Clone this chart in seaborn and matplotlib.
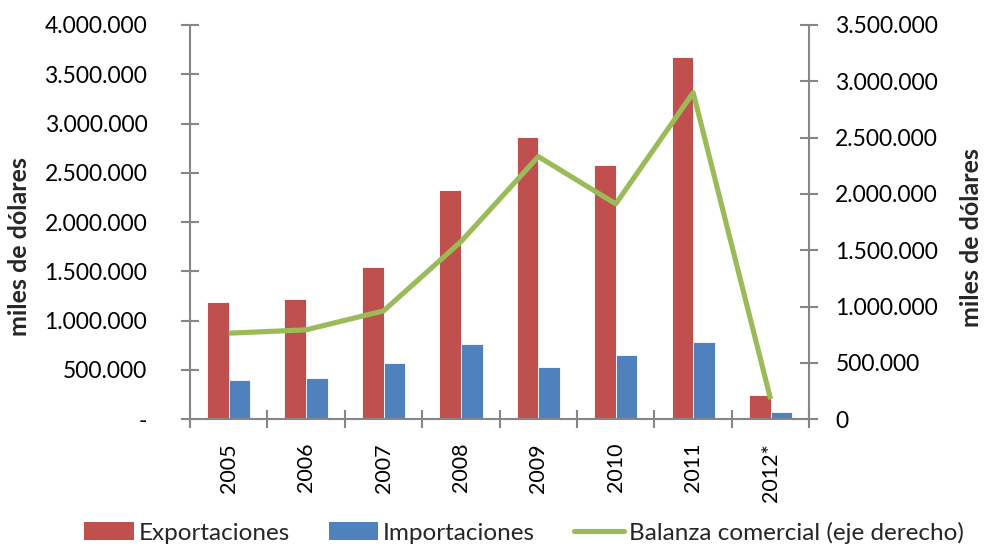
import matplotlib
matplotlib.use("Agg")
import matplotlib.pyplot as plt
import matplotlib.ticker as mticker
from matplotlib.patches import Patch
from matplotlib.lines import Line2D
import numpy as np
import pandas as pd
import seaborn as sns

years = ["2005", "2006", "2007", "2008", "2009", "2010", "2011", "2012*"]
exportaciones = [1185000, 1222000, 1547000, 2328000, 2862000, 2578000, 3680000, 250000]
importaciones = [403000, 423000, 575000, 768000, 535000, 650000, 782000, 78000]
balanza = [764000, 794000, 962000, 1577000, 2332000, 1912000, 2899000, 178000]

series_names = ["Exportaciones", "Importaciones"]
legend_line = "Balanza comercial (eje derecho)"
ylabel = "miles de dólares"

red = "#C0504D"
blue = "#4F81BD"
green = "#9BBB59"
grey = "#868686"

sns.set_theme(style="white")
plt.rcParams["font.family"] = ["Lato", "DejaVu Sans"]

df = pd.DataFrame({
    "year": years * 2,
    "value": exportaciones + importaciones,
    "serie": [series_names[0]] * len(years) + [series_names[1]] * len(years),
})

fig = plt.figure(figsize=(9.9, 5.49), dpi=100)
ax = fig.add_axes([0.1919, 0.2363, 0.8175 - 0.1919, 0.9545 - 0.2363])

sns.barplot(data=df, x="year", y="value", hue="serie", order=years,
            hue_order=series_names, palette=[red, blue], width=0.56,
            saturation=1, edgecolor="white", linewidth=0.6, ax=ax,
            legend=False)

ax2 = ax.twinx()
xpos = np.arange(len(years))
sns.lineplot(x=xpos, y=balanza, color=green, linewidth=3.7, ax=ax2,
             legend=False)
ax2.lines[0].set_solid_capstyle("butt")

ax.set_xlim(-0.5, len(years) - 0.5)
ax.set_ylim(0, 4000000)
ax2.set_ylim(0, 3500000)
ax.yaxis.set_major_locator(mticker.MultipleLocator(500000))
ax2.yaxis.set_major_locator(mticker.MultipleLocator(500000))

def fmt_left(v, pos):
    if abs(v) < 1:
        return "-"
    return f"{int(round(v)):,}".replace(",", ".")

def fmt_right(v, pos):
    return f"{int(round(v)):,}".replace(",", ".")

ax.yaxis.set_major_formatter(mticker.FuncFormatter(fmt_left))
ax2.yaxis.set_major_formatter(mticker.FuncFormatter(fmt_right))

ax.set_xticks(xpos)
ax.set_xticklabels(years, rotation=90)
ax.set_xticks(np.arange(-0.5, len(years), 1), minor=True)
ax.tick_params(axis="x", which="major", length=0, pad=17, labelsize=15.5,
               colors="black")
ax.tick_params(axis="x", which="minor", direction="inout", length=13.5,
               width=1.5, color=grey, bottom=True)
ax.tick_params(axis="y", direction="inout", length=13.5, width=1.5,
               color=grey, labelsize=16.5, pad=24, left=True,
               labelcolor="black")
ax2.tick_params(axis="y", direction="inout", length=13.5, width=1.5,
                color=grey, labelsize=16.5, pad=12, right=True,
                labelcolor="black")

for a in (ax, ax2):
    for s in a.spines.values():
        s.set_visible(False)
ax.spines["left"].set_visible(True)
ax.spines["bottom"].set_visible(True)
ax2.spines["right"].set_visible(True)
for s in (ax.spines["left"], ax.spines["bottom"], ax2.spines["right"]):
    s.set_color(grey)
    s.set_linewidth(1.5)

ax.set_xlabel("")
ax.set_ylabel(ylabel, fontsize=18, fontweight="bold")
ax2.set_ylabel(ylabel, fontsize=18, fontweight="bold")
ax.yaxis.label.set_va("center")
ax2.yaxis.label.set_va("center")
ax.yaxis.set_label_coords(-0.276, 0.437)
ax2.yaxis.set_label_coords(1.262, 0.46)

handles = [Patch(facecolor=red, edgecolor="none"),
           Patch(facecolor=blue, edgecolor="none"),
           Line2D([0], [0], color=green, linewidth=3.7)]
labels = series_names + [legend_line]
fig.legend(handles, labels, loc="center", bbox_to_anchor=(0.529, 0.03),
           ncol=3, frameon=False, fontsize=17.5, handlelength=2.05,
           handleheight=0.75, handletextpad=0.2, columnspacing=1.6,
           borderpad=0)

fig.savefig("out.png", dpi=100)
